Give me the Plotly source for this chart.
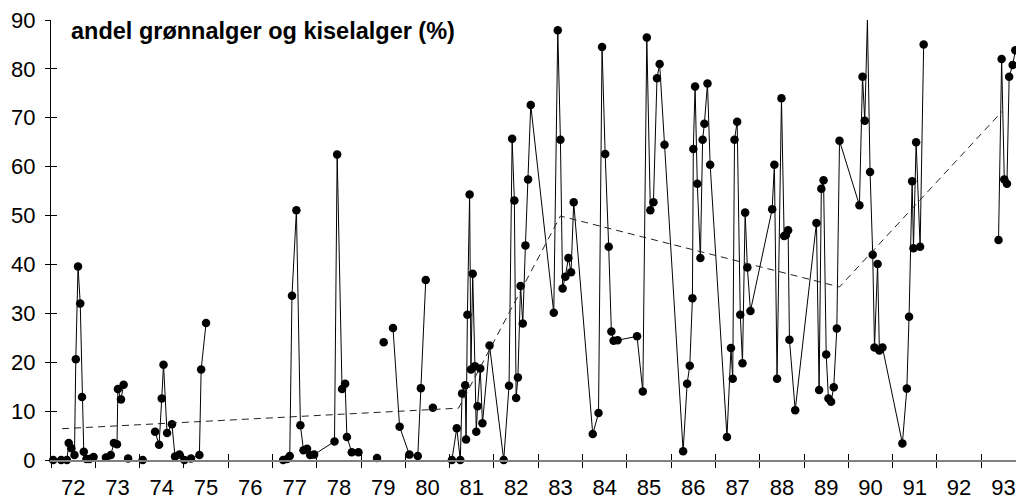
import plotly.graph_objects as go

# andel grønnalger og kiselalger (%) - decimal years (72 = 1972), None = break in the line
years = [
    72.05, 72.23, 72.36, 72.40, 72.46, 72.53, 72.56, 72.61, 72.66, 72.70, 72.74, 72.80, 72.87, 72.96, None,
    73.24, 73.35, 73.42, 73.49, 73.51, 73.58, 73.64, None,
    73.74, None,
    74.07, None,
    74.35, 74.44, 74.50, 74.54, 74.62, 74.73, 74.80, 74.90, 75.01, 75.16, 75.35, 75.39, 75.50, None,
    77.24, 77.33, 77.39, 77.44, 77.54, 77.63, 77.70, 77.78, 77.85, 77.94, 78.40, 78.46, 78.57, 78.64, 78.68,
    78.79, 78.94, None,
    79.36, None,
    79.51, None,
    79.72, 79.87, 80.09, 80.28, 80.35, 80.46, None,
    80.62, None,
    81.05, 81.16, 81.24, 81.28, 81.35, 81.37, 81.40, 81.45, 81.48, 81.52, 81.57, 81.60, 81.63, 81.69, 81.74,
    81.90, 82.22, 82.34, 82.41, 82.46, 82.50, 82.54, 82.60, 82.65, 82.71, 82.77, 82.83, 83.35, 83.44, 83.50,
    83.55, 83.61, 83.68, 83.74, 83.80, 84.23, 84.36, 84.44, 84.51, 84.59, 84.65, 84.70, 84.79, 85.23, 85.36,
    85.45, 85.53, 85.60, 85.68, 85.74, 85.85, 86.27, 86.36, 86.42, 86.48, 86.50, 86.54, 86.59, 86.66, 86.71,
    86.75, 86.82, 86.88, 87.26, 87.35, 87.39, 87.43, 87.49, 87.56, 87.61, 87.67, 87.72, 87.79, 88.28, 88.33,
    88.39, 88.49, 88.55, 88.59, 88.64, 88.67, 88.80, 89.28, 89.34, 89.39, 89.44, 89.50, 89.55, 89.61, 89.67,
    89.74, 89.80, 90.25, 90.32, 90.37, 90.43, 90.49, 90.55, 90.59, 90.66, 90.70, 90.77, 91.22, 91.32, 91.37,
    91.44, 91.47, 91.53, 91.62, 91.70, None,
    93.39, 93.46, 93.52, 93.58, 93.63, 93.71, 93.77,
]
andel = [
    0, 0, 0, 3.5, 2.4, 1.0, 20.6, 39.6, 32.0, 12.9, 1.7, 0.2, 0.2, 0.6, None,
    0.5, 1.0, 3.5, 3.2, 14.5, 12.4, 15.4, None,
    0.3, None,
    0, None,
    5.8, 3.1, 12.6, 19.5, 5.5, 7.3, 0.7, 1.1, 0, 0.3, 1.0, 18.5, 28.0, None,
    0, 0.2, 0.8, 33.6, 51.1, 7.1, 2.0, 2.3, 1.0, 1.1, 3.8, 62.5, 14.5, 15.6, 4.7,
    1.6, 1.6, None,
    0.4, None,
    24.1, None,
    27.0, 6.8, 1.1, 0.8, 14.7, 36.8, None,
    10.7, None,
    0, 6.5, 0, 13.6, 15.3, 4.2, 29.7, 54.3, 18.5, 38.1, 19.2, 5.8, 11.0, 18.7, 7.5,
    23.4, 0, 15.2, 65.7, 53.1, 12.7, 16.9, 35.6, 27.9, 43.9, 57.4, 72.6, 30.1, 87.9, 65.5,
    35.1, 37.5, 41.3, 38.4, 52.7, 5.3, 9.6, 84.5, 62.6, 43.6, 26.3, 24.4, 24.5, 25.3, 14.0,
    86.4, 51.1, 52.7, 78.1, 81.0, 64.5, 1.8, 15.6, 19.3, 33.1, 63.6, 76.4, 56.5, 41.3, 65.5,
    68.8, 77.0, 60.4, 4.7, 22.9, 16.6, 65.5, 69.2, 29.7, 19.8, 50.6, 39.4, 30.5, 51.3, 60.4,
    16.6, 74.0, 45.8, 46.0, 47.0, 24.6, 10.2, 48.5, 14.3, 55.5, 57.2, 21.6, 12.6, 11.9, 14.9,
    26.9, 65.3, 52.1, 78.4, 69.4, 90.1, 58.9, 42.0, 23.0, 40.1, 22.4, 23.0, 3.4, 14.6, 29.3,
    57.0, 43.3, 65.0, 43.6, 85.0, None,
    45.0, 82.0, 57.4, 56.5, 78.4, 80.8, 83.8,
]

# broken-stick trend (dashed)
trend_years = [72.25, 81.20, 83.50, 89.80, 93.47]
trend_vals = [6.4, 10.6, 49.9, 35.4, 71.3]

year_ticks = list(range(72, 94))
year_labels = [str(y) for y in year_ticks]
y_ticks = list(range(0, 100, 10))

X_RANGE = [72, 93.965]
Y_RANGE = [0, 90]
FONT = "Liberation Sans, Arial, sans-serif"

fig = go.Figure()
fig.add_trace(go.Scatter(
    x=years, y=andel,
    mode="lines+markers",
    line=dict(color="black", width=1),
    marker=dict(color="black", size=8.5),
    connectgaps=False,
    cliponaxis=False,
    showlegend=False,
))
fig.add_trace(go.Scatter(
    x=trend_years, y=trend_vals,
    mode="lines",
    line=dict(color="#222222", width=1, dash="7px,5px"),
    xaxis="x2", yaxis="y2",
    showlegend=False,
))

# the page body has an 8px margin, so the figure is 8px smaller than the window
fig.update_layout(
    width=1016, height=495,
    margin=dict(l=43, r=0, t=10, b=43),
    paper_bgcolor="white", plot_bgcolor="white",
    font=dict(family=FONT, size=22, color="black"),
    xaxis=dict(
        range=X_RANGE,
        showline=True, linecolor="#808080", linewidth=2,
        tickvals=[y + 0.5 for y in year_ticks], ticktext=year_labels,
        ticks="", showgrid=False, zeroline=False,
        ticklabelstandoff=7,
        minor=dict(tickvals=year_ticks, ticks="outside", ticklen=6,
                   tickwidth=1, tickcolor="black", showgrid=False),
    ),
    yaxis=dict(
        range=Y_RANGE,
        showline=True, linecolor="black", linewidth=1,
        tickvals=y_ticks, ticks="outside", ticklen=5, tickwidth=1, tickcolor="black",
        showgrid=False, zeroline=False,
        ticklabelstandoff=5, ticklabeloverflow="allow",
    ),
    xaxis2=dict(
        range=X_RANGE, overlaying="x", anchor="y2",
        tickvals=year_ticks, ticks="inside", ticklen=6, tickwidth=1, tickcolor="black",
        showticklabels=False, showgrid=False, zeroline=False, showline=False,
    ),
    yaxis2=dict(
        range=Y_RANGE, overlaying="y", anchor="x2",
        tickvals=y_ticks, ticks="inside", ticklen=6, tickwidth=1, tickcolor="black",
        showticklabels=False, showgrid=False, zeroline=False, showline=False,
    ),
    annotations=[dict(
        text="<b>andel grønnalger og kiselalger (%)</b>",
        xref="paper", yref="paper", x=0.0185, y=0.975,
        xanchor="left", yanchor="middle", showarrow=False,
        font=dict(family=FONT, size=23.5, color="black"),
    )],
)

fig.write_html("out.html")
